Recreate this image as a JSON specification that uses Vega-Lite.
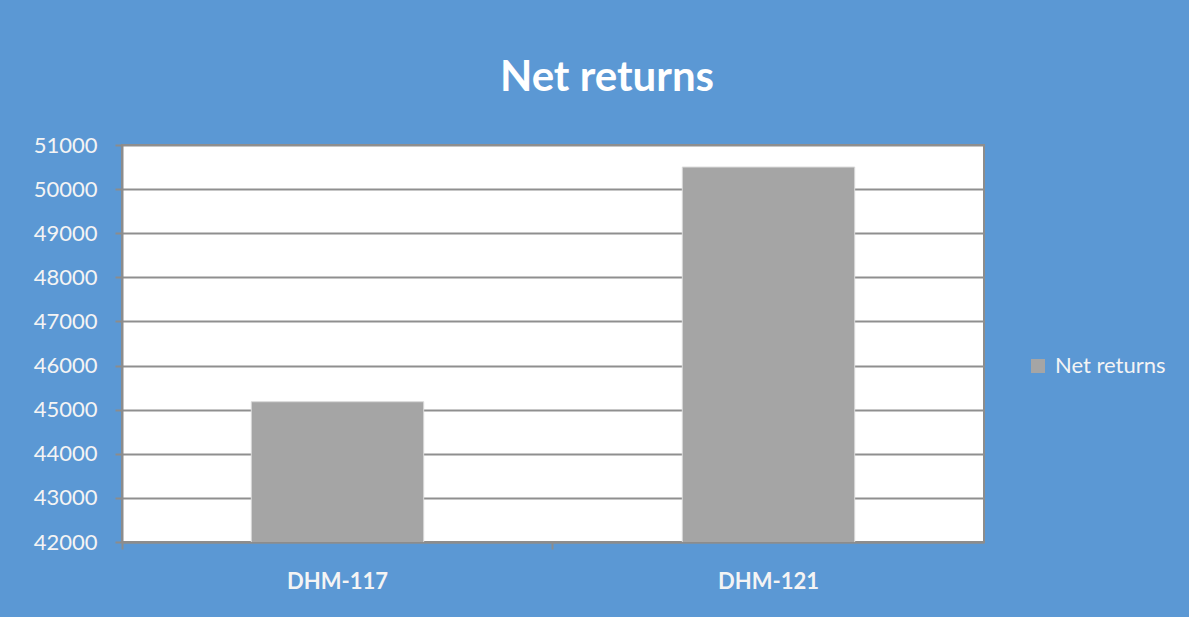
{
  "$schema": "https://vega.github.io/schema/vega-lite/v6.json",
  "width": 862,
  "height": 397,
  "autosize": {"type": "none"},
  "padding": {"left": 122, "top": 145, "right": 205, "bottom": 75},
  "background": "#5b98d4",
  "title": {
    "text": "Net returns",
    "font": "Lato",
    "fontWeight": "bold",
    "fontSize": 42,
    "color": "#ffffff",
    "anchor": "middle",
    "frame": "group",
    "baseline": "alphabetic",
    "dx": 54,
    "offset": 1
  },
  "data": {
    "values": [
      {"variety": "DHM-117", "value": 45180, "series": "Net returns"},
      {"variety": "DHM-121", "value": 50500, "series": "Net returns"}
    ]
  },
  "layer": [
    {
      "mark": {"type": "bar", "stroke": "#d9d9d9", "strokeWidth": 1, "clip": true},
      "encoding": {
        "x": {
          "field": "variety",
          "type": "nominal",
          "sort": null,
          "scale": {"paddingInner": 0.6, "paddingOuter": 0.3},
          "axis": {
            "orient": "bottom",
            "title": null,
            "labelAngle": 0,
            "labelFont": "Lato",
            "labelFontSize": 22,
            "labelFontWeight": "bold",
            "labelColor": "#f4f4f4",
            "labelPadding": 29,
            "domainColor": "#8c8c8c",
            "domainWidth": 2,
            "ticks": false
          }
        },
        "y": {
          "field": "value",
          "type": "quantitative",
          "scale": {"domain": [42000, 51000], "zero": false, "nice": false},
          "axis": {
            "title": null,
            "values": [42000, 43000, 44000, 45000, 46000, 47000, 48000, 49000, 50000, 51000],
            "format": "d",
            "labelFont": "Lato",
            "labelFontSize": 22,
            "labelColor": "#f4f4f4",
            "labelPadding": 18,
            "domainColor": "#8c8c8c",
            "domainWidth": 2,
            "tickColor": "#8c8c8c",
            "tickSize": 7,
            "tickWidth": 2,
            "grid": true,
            "gridColor": "#8f8f8f",
            "gridWidth": 2
          }
        },
        "color": {
          "field": "series",
          "type": "nominal",
          "scale": {"range": ["#a5a5a5"]},
          "legend": {
            "title": null,
            "orient": "none",
            "legendX": 905,
            "legendY": 210,
            "symbolType": "square",
            "symbolSize": 196,
            "symbolStrokeWidth": 0,
            "labelFont": "Lato",
            "labelFontSize": 22,
            "labelColor": "#f4f4f4",
            "labelOffset": 6
          }
        }
      }
    },
    {
      "mark": {"type": "bar", "opacity": 0, "clip": true},
      "encoding": {
        "x": {
          "field": "variety",
          "type": "nominal",
          "sort": null,
          "axis": {
            "orient": "bottom",
            "title": null,
            "labels": false,
            "domain": false,
            "grid": false,
            "tickColor": "#8c8c8c",
            "tickSize": 7,
            "tickWidth": 2,
            "bandPosition": -0.75
          }
        },
        "y": {"field": "value", "type": "quantitative"}
      }
    }
  ],
  "resolve": {"axis": {"x": "independent"}},
  "config": {
    "view": {"fill": "#ffffff", "stroke": "#8c8c8c", "strokeWidth": 2}
  }
}
